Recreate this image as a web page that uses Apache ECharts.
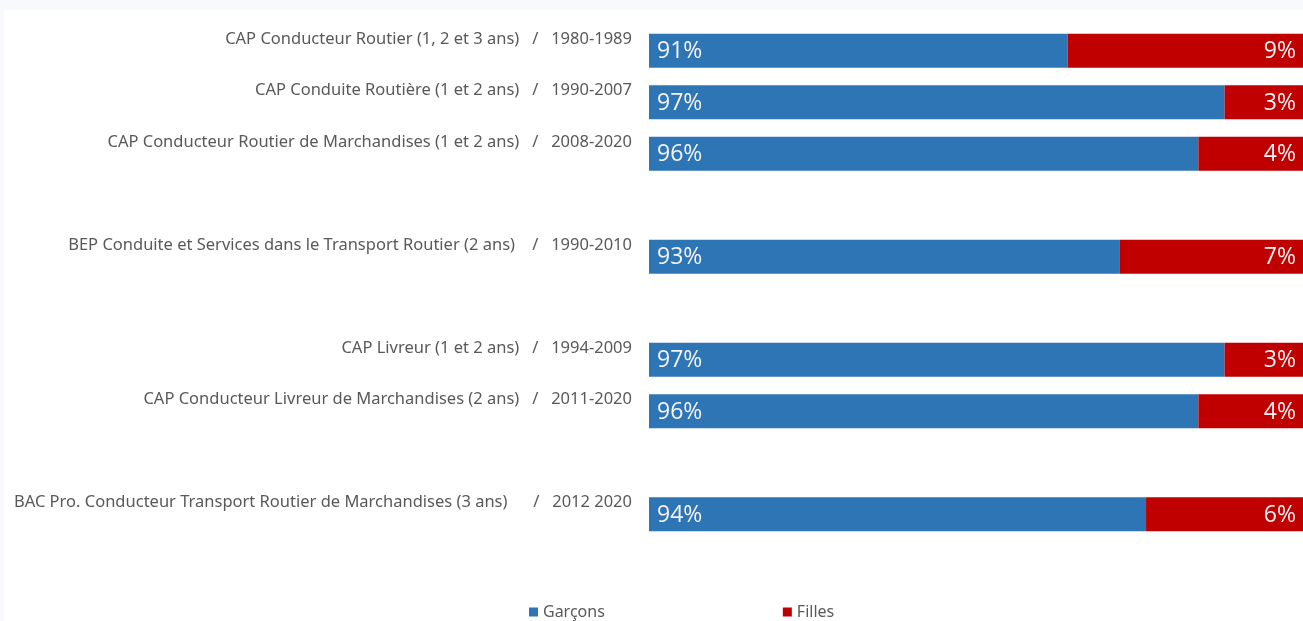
<!DOCTYPE html>
<html>
<head>
<meta charset="utf-8">
<script src="https://cdn.jsdelivr.net/npm/echarts@6/dist/echarts.min.js"></script>
<style>
html,body{margin:0;padding:0;background:#f8f9fc;width:1303px;height:621px;overflow:hidden;}
#c{position:absolute;left:4px;top:10px;width:1299px;height:611px;background:#ffffff;}
</style>
</head>
<body>
<div id="c"></div>
<script>
const categories = [
  'CAP Conducteur Routier (1, 2 et 3 ans)   /   1980-1989',
  'CAP Conduite Routière (1 et 2 ans)   /   1990-2007',
  'CAP Conducteur Routier de Marchandises (1 et 2 ans)   /   2008-2020',
  ' ',
  'BEP Conduite et Services dans le Transport Routier (2 ans)    /   1990-2010',
  '  ',
  'CAP Livreur (1 et 2 ans)   /   1994-2009',
  'CAP Conducteur Livreur de Marchandises (2 ans)   /   2011-2020',
  '   ',
  'BAC Pro. Conducteur Transport Routier de Marchandises (3 ans)      /   2012 2020'
];
const garcons = [91, 97, 96, null, 93, null, 97, 96, null, 94];
const filles  = [9, 3, 4, null, 7, null, 3, 4, null, 6];
const seriesNames = ['Garçons', 'Filles'];
const axisMin = 75, axisMax = 100;

const chart = echarts.init(document.getElementById('c'), null, {renderer: 'canvas'});
const labelFont = {color: '#f4f4f4', fontSize: 23, fontFamily: 'Open Sans', offset: [0, 1]};
chart.setOption({
  backgroundColor: '#ffffff',
  animation: false,
  grid: {left: 645, right: 0, top: 15, height: 515, containLabel: false},
  legend: {
    data: seriesNames,
    left: 520, top: 589,
    icon: 'rect', itemWidth: 9, itemHeight: 9, itemGap: 178,
    textStyle: {color: '#595959', fontSize: 16, fontFamily: 'Noto Sans'}
  },
  xAxis: {
    type: 'value', min: axisMin, max: axisMax,
    show: false, splitLine: {show: false}
  },
  yAxis: {
    type: 'category', data: categories, inverse: true,
    axisLine: {show: false}, axisTick: {show: false},
    axisLabel: {
      color: '#595959', fontSize: 16.5, fontFamily: 'Noto Sans', margin: 17,
      verticalAlign: 'bottom', padding: [0, 0, 3, 0]
    }
  },
  series: [
    {
      name: seriesNames[0], type: 'bar', stack: 'total', data: garcons,
      barWidth: 34, clip: true,
      itemStyle: {color: '#2e75b6'},
      label: Object.assign({show: true, position: 'insideLeft', distance: 8, formatter: '{c}%'}, labelFont)
    },
    {
      name: seriesNames[1], type: 'bar', stack: 'total', data: filles,
      barWidth: 34, clip: true,
      itemStyle: {color: '#c00000'},
      label: Object.assign({show: true, position: 'insideRight', distance: 7, formatter: '{c}%'}, labelFont)
    }
  ]
});
</script>
</body>
</html>
